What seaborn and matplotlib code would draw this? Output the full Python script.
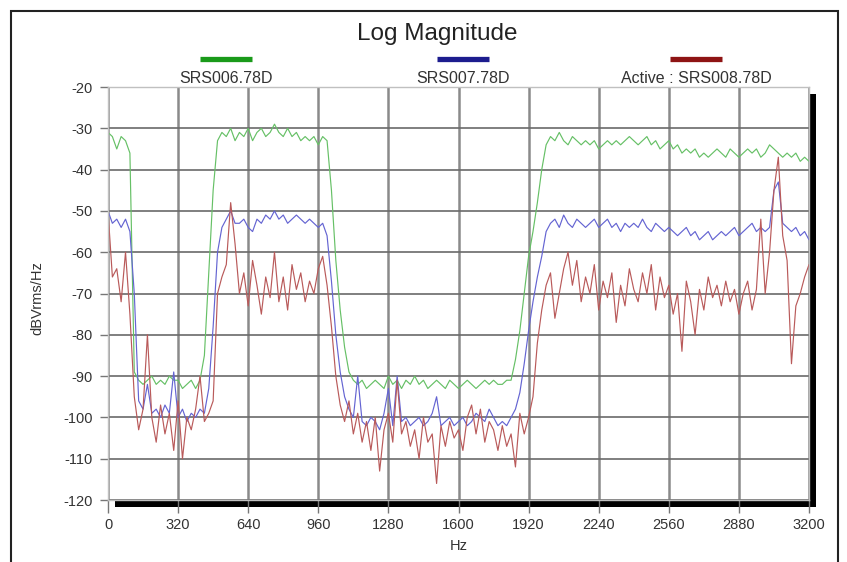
import numpy as np
import pandas as pd
import matplotlib.pyplot as plt
import matplotlib.patches as mpatches
from matplotlib.lines import Line2D
import seaborn as sns

# frequency axis, one reading every 20 Hz
hz = np.arange(0, 3201, 20)

# SRS006.78D (dBVrms/Hz)
srs006 = [
    -31, -32, -35, -32, -33, -36, -89, -91, -92, -91,
    -90, -92, -91, -92, -90, -91, -91, -93, -92, -91,
    -93, -91, -85, -65, -45, -33, -31, -32, -30, -33,
    -31, -32, -30, -33, -31, -30, -32, -31, -29, -31,
    -32, -30, -32, -31, -33, -32, -33, -32, -34, -32,
    -33, -45, -62, -74, -83, -89, -91, -92, -91, -93,
    -92, -91, -92, -93, -90, -92, -91, -93, -91, -92,
    -90, -92, -91, -93, -92, -91, -92, -93, -91, -92,
    -93, -92, -91, -92, -93, -92, -91, -92, -91, -92,
    -92, -91, -91, -86, -79, -70, -61, -55, -48, -40,
    -34, -32, -33, -31, -33, -34, -32, -33, -34, -33,
    -34, -33, -35, -34, -33, -34, -33, -34, -33, -32,
    -33, -34, -33, -32, -34, -33, -35, -34, -33, -35,
    -34, -36, -35, -36, -35, -37, -36, -37, -36, -35,
    -36, -37, -35, -36, -37, -36, -35, -36, -35, -37,
    -36, -34, -35, -36, -37, -36, -37, -36, -38, -37,
    -38,
]

# SRS007.78D
srs007 = [
    -50, -53, -52, -54, -52, -55, -70, -96, -98, -92,
    -99, -98, -100, -97, -99, -89, -100, -98, -101, -99,
    -100, -98, -99, -93, -78, -60, -54, -52, -50, -53,
    -53, -52, -54, -55, -52, -53, -51, -52, -50, -52,
    -51, -53, -52, -51, -52, -53, -52, -53, -54, -53,
    -56, -67, -80, -89, -95, -98, -100, -90, -101, -102,
    -100, -101, -103, -99, -93, -102, -90, -101, -100, -102,
    -101, -100, -102, -101, -99, -95, -102, -101, -100, -102,
    -101, -100, -102, -101, -99, -100, -101, -98, -100, -102,
    -101, -102, -100, -98, -94, -87, -79, -72, -66, -61,
    -55, -53, -52, -54, -51, -53, -54, -52, -53, -54,
    -53, -52, -54, -53, -52, -54, -53, -55, -53, -54,
    -53, -54, -52, -54, -55, -53, -54, -55, -54, -55,
    -56, -55, -54, -56, -55, -57, -56, -55, -57, -56,
    -55, -56, -55, -54, -56, -55, -54, -53, -55, -54,
    -55, -54, -45, -43, -53, -54, -55, -54, -56, -55,
    -57,
]

# Active : SRS008.78D
srs008 = [
    -50, -66, -64, -72, -60, -75, -95, -103, -98, -80,
    -100, -106, -97, -104, -99, -108, -96, -110, -100, -103,
    -98, -90, -101, -99, -96, -70, -66, -63, -48, -58,
    -70, -65, -73, -62, -68, -75, -66, -71, -60, -72,
    -66, -74, -63, -69, -65, -72, -67, -70, -64, -61,
    -68, -78, -90, -97, -101, -96, -104, -99, -106, -101,
    -108, -100, -113, -103, -99, -106, -91, -104, -101, -107,
    -103, -110, -100, -106, -104, -116, -102, -107, -101, -105,
    -103, -108, -100, -97, -104, -98, -106, -101, -103, -108,
    -102, -107, -104, -112, -99, -104, -100, -95, -82, -74,
    -68, -65, -76, -70, -64, -60, -68, -62, -72, -66,
    -70, -63, -74, -67, -71, -65, -77, -68, -73, -64,
    -69, -72, -65, -70, -63, -74, -66, -71, -68, -75,
    -70, -84, -67, -72, -80, -69, -74, -66, -71, -68,
    -73, -67, -72, -69, -75, -70, -67, -74, -69, -52,
    -70, -60, -45, -37, -56, -62, -87, -73, -70, -66,
    -63,
]

series_names = ["SRS006.78D", "SRS007.78D", "Active : SRS008.78D"]
line_colors = ["#66c066", "#6464d2", "#b95a5a"]
legend_colors = ["#1a9a1a", "#1c1c8e", "#8e1414"]

df = pd.concat([
    pd.DataFrame({"Hz": hz, "dB": vals, "trace": name})
    for name, vals in zip(series_names, [srs006, srs007, srs008])
])

sns.set_style("white")
plt.rcParams["font.family"] = ["Liberation Sans", "DejaVu Sans"]
plt.rcParams["axes.unicode_minus"] = False

W, H = 847, 562
fig = plt.figure(figsize=(W / 100, H / 100), dpi=100)
ax = fig.add_axes([108 / W, 62 / H, 701 / W, 413 / H])
ax.set_facecolor("white")

sns.lineplot(data=df, x="Hz", y="dB", hue="trace", hue_order=series_names,
             palette=dict(zip(series_names, line_colors)), linewidth=0.85,
             legend=False, ax=ax)

ax.set_xlim(0, 3200)
ax.set_ylim(-120, -20)
ax.set_xticks(np.arange(0, 3201, 320))
ax.set_yticks(np.arange(-120, -19, 10))
ax.xaxis.grid(True, color="#8a8a8a", linewidth=1.8)
ax.yaxis.grid(True, color="#6a6a6a", linewidth=1.2)
ax.set_axisbelow(True)
for s in ax.spines.values():
    s.set_color("#c0c0c0")
    s.set_linewidth(1)
ax.tick_params(axis="x", direction="out", length=9, pad=4, width=1,
               color="#777777", labelsize=10.5, labelcolor="#333333")
ax.tick_params(axis="y", direction="out", length=6, pad=5, width=1,
               color="#777777", labelsize=10.5, labelcolor="#333333")
ax.tick_params(bottom=True, left=True)

ax.set_xlabel("Hz", fontsize=10.5, color="#333333")
ax.xaxis.set_label_coords(0.5, -0.094)
ax.set_ylabel("dBVrms/Hz", fontsize=10.5, color="#333333")
ax.yaxis.set_label_coords(-0.091, 0.49)

# drop shadow behind the plot area
pos = ax.get_position()
fig.add_artist(mpatches.Rectangle((pos.x0 + 7 / W, pos.y0 - 7 / H), pos.width, pos.height,
                                  transform=fig.transFigure, facecolor="black",
                                  edgecolor="none", zorder=-1))

# outer frame
fig.add_artist(mpatches.Rectangle((11 / W, -0.05), 827 / W, 1.05 - 11 / H,
                                  transform=fig.transFigure, fill=False,
                                  edgecolor="#222222", linewidth=1.5))

fig.text(437 / W, 1 - 40 / H, "Log Magnitude", ha="center", va="baseline",
         fontsize=17.5, color="#222222")

# legend: colour bar above each label
label_x = [226, 463, 696]
for name, col, cx in zip(series_names, legend_colors, label_x):
    fig.add_artist(Line2D([(cx - 26) / W, (cx + 26) / W], [1 - 58.5 / H, 1 - 58.5 / H],
                          transform=fig.transFigure, color=col, linewidth=3.8,
                          solid_capstyle="butt"))
    fig.text(cx / W, 1 - 83 / H, name, ha="center", va="baseline",
             fontsize=11.5, color="#333333")

fig.savefig("out.png", dpi=100)
